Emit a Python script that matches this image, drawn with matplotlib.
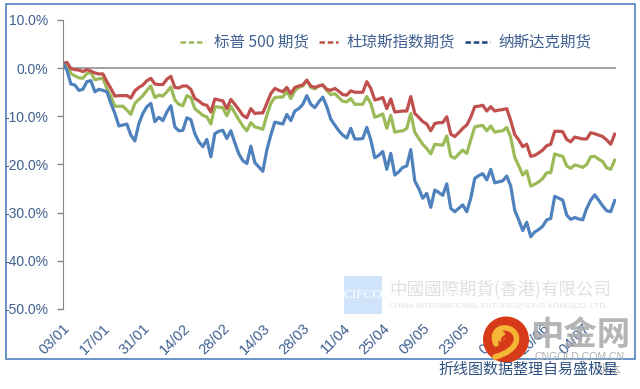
import numpy as np
import matplotlib
matplotlib.use("Agg")
import matplotlib.pyplot as plt
from matplotlib.patches import Rectangle, Circle, PathPatch
from matplotlib.path import Path

plt.rcParams['font.family'] = ['Noto Sans CJK SC', 'DejaVu Sans']

# tick labels every 10 trading days
date_labels = ['03/01', '17/01', '31/01', '14/02', '28/02', '14/03', '28/03',
               '11/04', '25/04', '09/05', '23/05', '06/06', '20/06', '04/07']
y_ticks = [10, 0, -10, -20, -30, -40, -50]

sp500 = [0.5, 0.6, -1.1, -1.6, -2.0, -2.1, -1.1, -0.9, -2.4, -2.2, -2.1, -4.2, -5.9, -7.9, -7.9, -7.9, -8.7, -9.6, -7.3, -6.5,
         -5.7, -4.6, -3.7, -6.1, -5.6, -5.8, -4.9, -3.9, -6.6, -7.5, -7.8, -5.7, -6.1, -8.4, -9.1, -9.8, -10.1, -11.6, -8.0, -8.1,
         -8.2, -9.9, -7.9, -9.3, -10.7, -12.0, -13.0, -11.3, -12.2, -12.4, -12.7, -9.8, -7.3, -6.1, -6.0, -6.0, -4.8, -6.3, -4.7, -4.0,
         -3.7, -2.5, -4.0, -4.3, -3.7, -3.5, -4.6, -5.5, -5.3, -6.1, -6.9, -7.0, -6.3, -7.5, -7.5, -7.5, -5.9, -7.3, -10.2, -9.9,
         -9.5, -12.5, -9.8, -13.3, -13.1, -13.0, -12.5, -9.4, -13.3, -14.6, -15.8, -16.7, -17.8, -15.8, -15.9, -16.0, -14.1, -18.3, -18.7, -17.8,
         -17.0, -17.7, -14.9, -12.2, -12.0, -11.9, -13.0, -12.0, -13.3, -13.1, -13.0, -12.3, -14.4, -18.5, -20.3, -22.2, -21.3, -24.5, -24.1, -23.6,
         -22.9, -21.7, -21.7, -17.8, -18.1, -18.3, -20.3, -20.8, -20.1, -20.3, -20.6, -20.0, -18.4, -18.3, -18.9, -19.4, -20.7, -21.0, -19.1]

dow = [1.0, 1.2, -0.1, -0.3, -0.4, -0.7, -0.3, -0.6, -1.0, -1.2, -1.2, -2.8, -4.2, -5.8, -5.7, -5.7, -5.7, -6.2, -4.7, -4.0,
       -3.5, -2.6, -2.1, -3.3, -3.4, -3.4, -2.3, -1.7, -4.0, -4.1, -3.7, -3.7, -4.4, -6.3, -6.8, -7.5, -7.7, -9.1, -6.4, -6.6,
       -6.8, -8.4, -6.5, -7.5, -8.6, -9.8, -10.3, -8.4, -9.4, -9.3, -9.3, -7.3, -5.3, -4.2, -4.6, -4.9, -4.0, -5.3, -4.0, -3.7,
       -3.5, -2.5, -3.7, -4.0, -3.7, -3.5, -4.4, -4.6, -4.2, -4.8, -5.5, -5.6, -4.7, -5.0, -5.0, -5.0, -2.8, -4.2, -6.6, -6.4,
       -6.1, -8.4, -6.4, -9.1, -9.0, -8.9, -8.9, -5.9, -9.4, -10.2, -11.1, -11.6, -13.0, -11.5, -11.3, -11.3, -10.1, -13.7, -14.2, -13.4,
       -12.5, -11.8, -10.2, -8.0, -7.9, -7.7, -8.9, -8.0, -8.9, -8.7, -8.6, -8.4, -10.9, -13.8, -14.9, -16.3, -15.8, -18.3, -18.1, -17.6,
       -17.0, -16.1, -15.8, -13.1, -13.1, -13.2, -14.8, -15.3, -14.3, -14.5, -14.7, -14.7, -13.4, -13.6, -13.9, -14.2, -14.9, -15.8, -13.7]

nasdaq = [1.0, -0.4, -3.3, -3.5, -4.6, -4.4, -2.8, -2.6, -4.9, -4.4, -4.6, -4.9, -7.3, -9.4, -12.0, -11.8, -11.6, -13.9, -15.1, -11.5,
          -9.4, -8.0, -7.3, -11.1, -10.2, -10.9, -9.1, -7.8, -12.2, -13.0, -12.9, -10.3, -10.7, -13.6, -15.3, -16.3, -14.8, -18.4, -13.6, -13.1,
          -12.9, -14.6, -13.0, -15.5, -17.8, -19.2, -19.8, -16.2, -19.6, -20.5, -21.4, -17.0, -13.9, -11.2, -11.4, -11.6, -9.6, -10.9, -8.9, -8.4,
          -7.5, -5.7, -7.5, -8.2, -7.0, -6.0, -8.0, -10.6, -11.8, -13.0, -13.9, -14.5, -12.5, -14.7, -14.7, -14.6, -12.3, -14.9, -18.6, -18.1,
          -17.3, -21.0, -17.7, -22.2, -21.5, -20.6, -20.3, -16.9, -23.4, -25.0, -27.0, -26.0, -28.9, -25.3, -25.8, -26.4, -24.0, -29.1, -29.8, -29.1,
          -28.4, -29.8, -27.0, -22.9, -22.3, -21.9, -23.2, -21.0, -23.8, -23.6, -23.4, -22.4, -24.5, -29.5, -31.5, -33.7, -32.0, -35.0, -34.0, -33.5,
          -32.8, -31.5, -31.2, -26.6, -27.0, -27.4, -30.5, -31.4, -31.0, -31.3, -31.5, -29.1, -27.4, -26.3, -27.4, -28.6, -29.6, -29.8, -27.5]

TXT = '#3f6090'
W, H = 640, 389

fig = plt.figure(figsize=(6.4, 3.89), dpi=100, facecolor='white')

# overlay in pixel coordinates, for frame / watermarks / legend
bg = fig.add_axes([0, 0, 1, 1], zorder=0)
bg.set_xlim(0, W)
bg.set_ylim(H, 0)
bg.axis('off')
bg.add_patch(Rectangle((5.5, 3.5), 629.5, 355.5, fill=False, ec='#4f81bd', lw=1.2))

# CIFCO watermark
bg.add_patch(Rectangle((344, 276), 38, 38, fc='#cfe4fb', ec='none'))
bg.text(363, 295, 'CIFCO', color='white', fontsize=9.5, family='Liberation Serif', ha='center', va='center')
bg.text(389, 289.5, '中國國際期貨(香港)有限公司', color='#e0e0e0', fontsize=12.6, ha='left', va='center')
bg.text(389, 307, 'CHINA INTERNATIONAL FUTURES(HONG KONG)CO.,LTD.', color='#e2e2e2', fontsize=5.75,
        family='Liberation Sans', ha='left', va='center')

# plot area: y=68 px is 0%, 48.2 px per 10%
ax = fig.add_axes([62.5 / W, 1 - 309 / H, 553 / W, 289 / H], zorder=1)
ax.patch.set_alpha(0)
x = np.arange(len(sp500))
ax.plot(x, sp500, color='#9bbb59', lw=2.3, solid_joinstyle='round')
ax.plot(x, dow, color='#c0504d', lw=2.3, solid_joinstyle='round')
ax.plot(x, nasdaq, color='#4f81bd', lw=2.3, solid_joinstyle='round')
ax.set_xlim(-0.1, len(sp500) - 1 + 0.2)
ax.set_ylim(-50, 10)
ax.set_yticks(y_ticks)
ax.set_yticklabels([f'{v:.1f}%' for v in y_ticks], color=TXT, fontsize=10, family='Liberation Sans')
ax.set_xticks(np.arange(len(date_labels)) * 10)
ax.set_xticklabels(date_labels, rotation=45, ha='right', rotation_mode='anchor', color=TXT, fontsize=10.5,
                   family='Liberation Sans')
ax.tick_params(axis='y', color='#868686', length=4, width=1, pad=6)
ax.tick_params(axis='x', length=0, pad=9)
for s in ['top', 'right', 'bottom']:
    ax.spines[s].set_visible(False)
ax.spines['left'].set_color('#868686')
ax.axhline(0, color='#868686', lw=1.1, zorder=0.5)

# legend, placed by hand to match spacing
top = fig.add_axes([0, 0, 1, 1], zorder=2)
top.set_xlim(0, W)
top.set_ylim(H, 0)
top.axis('off')
leg_y = 42
for x0, x1, col, tx, name in [(180, 205, '#9bbb59', 214, '标普 500 期货'),
                              (319, 338, '#c0504d', 347, '杜琼斯指数期货'),
                              (465, 490, '#1f497d', 498, '纳斯达克期货')]:
    top.plot([x0, x1], [leg_y, leg_y], color=col, lw=1.8, ls=(0, (2.2, 1.1)))
    top.text(tx, leg_y, name, color=TXT, fontsize=11.2, ha='left', va='center')

# logo and site watermark on top of the axis labels
top.add_patch(Circle((506, 339.5), 23, fc='#d63a18', ec='none'))
swirl = Path([(496, 344), (491, 333), (499, 327), (506, 328), (516, 329), (520, 340), (513, 347), (508, 353), (501, 355), (495, 357)],
             [Path.MOVETO] + [Path.CURVE4] * 9)
top.add_patch(PathPatch(swirl, fc='none', ec='#f5b535', lw=4, capstyle='round'))
top.add_patch(Circle((500, 336), 5.5, fc='#f5b535', ec='none'))
curl = Path([(502, 340), (504, 334), (511, 335), (510, 341)], [Path.MOVETO] + [Path.CURVE4] * 3)
top.add_patch(PathPatch(curl, fc='none', ec='#d63a18', lw=1.8, capstyle='round'))
top.text(580, 336, '中金网', color='#a8a8a8', fontsize=24, fontweight='bold', alpha=0.85, ha='center', va='center')
top.text(580, 357, 'CNGOLD.COM.CN', color='#b0b0b0', fontsize=7.6, family='Liberation Sans', ha='center', va='center')
top.text(622, 370, '版本', color='#b0b0b0', fontsize=9, ha='right', va='center')
top.text(438, 369.5, '折线图数据整理自易盛极星', color='#2f5080', fontsize=10.8, ha='left', va='center')

fig.savefig('out.png', dpi=100)
